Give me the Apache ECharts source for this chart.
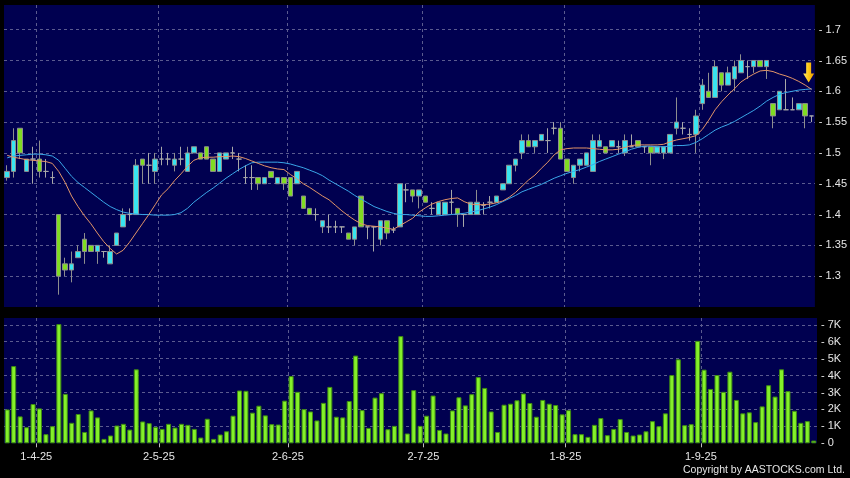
<!DOCTYPE html>
<html><head><meta charset="utf-8">
<script src="https://cdn.jsdelivr.net/npm/echarts@6/dist/echarts.min.js"></script>
<style>html,body{margin:0;padding:0;background:#000;}#c{width:850px;height:478px;}</style>
</head><body><div id="c"></div>
<script>
const dates = ['2025-03-26','2025-03-27','2025-03-28','2025-03-31','2025-04-01','2025-04-02','2025-04-03','2025-04-07','2025-04-08','2025-04-09',
'2025-04-10','2025-04-11','2025-04-14','2025-04-15','2025-04-16','2025-04-17','2025-04-22','2025-04-23','2025-04-24','2025-04-25',
'2025-04-28','2025-04-29','2025-04-30','2025-05-02','2025-05-06','2025-05-07','2025-05-08','2025-05-09','2025-05-12','2025-05-13',
'2025-05-14','2025-05-15','2025-05-16','2025-05-19','2025-05-20','2025-05-21','2025-05-22','2025-05-23','2025-05-26','2025-05-27',
'2025-05-28','2025-05-29','2025-05-30','2025-06-02','2025-06-03','2025-06-04','2025-06-05','2025-06-06','2025-06-09','2025-06-10',
'2025-06-11','2025-06-12','2025-06-13','2025-06-16','2025-06-17','2025-06-18','2025-06-19','2025-06-20','2025-06-23','2025-06-24',
'2025-06-25','2025-06-26','2025-06-27','2025-06-30','2025-07-02','2025-07-03','2025-07-04','2025-07-07','2025-07-08','2025-07-09',
'2025-07-10','2025-07-11','2025-07-14','2025-07-15','2025-07-16','2025-07-17','2025-07-18','2025-07-21','2025-07-22','2025-07-23',
'2025-07-24','2025-07-25','2025-07-28','2025-07-29','2025-07-30','2025-07-31','2025-08-01','2025-08-04','2025-08-05','2025-08-06',
'2025-08-07','2025-08-08','2025-08-11','2025-08-12','2025-08-13','2025-08-14','2025-08-15','2025-08-18','2025-08-19','2025-08-20',
'2025-08-21','2025-08-22','2025-08-25','2025-08-26','2025-08-27','2025-08-28','2025-08-29','2025-09-01','2025-09-02','2025-09-03',
'2025-09-04','2025-09-05','2025-09-08','2025-09-09','2025-09-10','2025-09-11','2025-09-12','2025-09-15','2025-09-16','2025-09-17',
'2025-09-18','2025-09-19','2025-09-22','2025-09-23','2025-09-24','2025-09-25'];

const opens = [1.46,1.47,1.54,1.47,1.49,1.49,1.47,1.46,1.40,1.32,
1.31,1.33,1.36,1.35,1.34,1.34,1.32,1.35,1.38,1.40,
1.40,1.49,1.48,1.47,1.49,1.49,1.48,1.49,1.47,1.50,
1.50,1.51,1.49,1.47,1.49,1.50,1.49,1.46,1.46,1.46,
1.45,1.47,1.45,1.46,1.46,1.45,1.43,1.41,1.40,1.38,
1.38,1.38,1.38,1.37,1.36,1.43,1.38,1.38,1.36,1.39,
1.375,1.38,1.44,1.44,1.43,1.43,1.41,1.40,1.40,1.42,
1.41,1.40,1.40,1.40,1.415,1.42,1.42,1.44,1.45,1.48,
1.50,1.52,1.51,1.52,1.52,1.54,1.54,1.49,1.46,1.48,
1.48,1.47,1.51,1.51,1.51,1.51,1.50,1.51,1.52,1.51,
1.51,1.50,1.50,1.50,1.54,1.54,1.53,1.53,1.58,1.60,
1.59,1.63,1.61,1.62,1.63,1.64,1.64,1.65,1.64,1.58,
1.57,1.57,1.57,1.57,1.58,1.56];
const closes = [1.47,1.52,1.50,1.49,1.49,1.47,1.47,1.46,1.30,1.31,
1.32,1.34,1.34,1.34,1.35,1.34,1.34,1.37,1.40,1.40,
1.48,1.48,1.48,1.49,1.49,1.49,1.49,1.49,1.50,1.51,
1.49,1.49,1.47,1.50,1.50,1.50,1.49,1.46,1.46,1.45,
1.46,1.46,1.46,1.45,1.43,1.47,1.41,1.40,1.40,1.39,
1.38,1.38,1.38,1.36,1.38,1.38,1.38,1.38,1.39,1.37,
1.375,1.45,1.44,1.43,1.44,1.42,1.41,1.42,1.42,1.42,
1.40,1.40,1.42,1.42,1.415,1.42,1.43,1.45,1.48,1.49,
1.52,1.51,1.52,1.53,1.52,1.54,1.49,1.47,1.48,1.49,
1.50,1.52,1.52,1.50,1.52,1.51,1.52,1.51,1.51,1.51,
1.50,1.51,1.51,1.53,1.55,1.54,1.53,1.56,1.61,1.59,
1.64,1.61,1.63,1.64,1.65,1.64,1.65,1.64,1.65,1.56,
1.60,1.57,1.57,1.58,1.56,1.56];
const lows = [1.455,1.46,1.49,1.47,1.45,1.46,1.46,1.45,1.27,1.30,
1.29,1.33,1.32,1.34,1.32,1.33,1.32,1.35,1.38,1.39,
1.40,1.45,1.45,1.45,1.48,1.48,1.47,1.48,1.47,1.50,
1.49,1.49,1.47,1.47,1.49,1.49,1.47,1.45,1.44,1.44,
1.45,1.46,1.45,1.44,1.43,1.45,1.41,1.40,1.39,1.37,
1.37,1.37,1.37,1.36,1.35,1.38,1.36,1.34,1.35,1.36,
1.37,1.38,1.42,1.42,1.41,1.42,1.40,1.40,1.40,1.40,
1.38,1.38,1.40,1.40,1.40,1.41,1.42,1.44,1.45,1.47,
1.49,1.51,1.50,1.52,1.50,1.53,1.49,1.47,1.45,1.47,
1.48,1.47,1.51,1.50,1.51,1.50,1.495,1.51,1.51,1.50,
1.48,1.50,1.49,1.50,1.53,1.53,1.52,1.50,1.57,1.59,
1.59,1.60,1.61,1.60,1.63,1.62,1.63,1.64,1.62,1.54,
1.57,1.57,1.57,1.57,1.54,1.55];
const highs = [1.48,1.54,1.54,1.49,1.51,1.52,1.49,1.47,1.40,1.33,
1.34,1.35,1.37,1.35,1.35,1.34,1.35,1.37,1.41,1.41,
1.49,1.49,1.50,1.50,1.51,1.50,1.50,1.51,1.51,1.51,
1.50,1.51,1.49,1.50,1.50,1.51,1.50,1.48,1.48,1.46,
1.46,1.47,1.46,1.46,1.46,1.47,1.43,1.41,1.41,1.39,
1.40,1.39,1.38,1.37,1.38,1.43,1.38,1.38,1.39,1.39,
1.38,1.45,1.45,1.44,1.44,1.43,1.42,1.42,1.42,1.44,
1.41,1.40,1.42,1.44,1.42,1.43,1.43,1.45,1.48,1.49,
1.53,1.53,1.52,1.53,1.54,1.55,1.55,1.49,1.48,1.49,
1.50,1.53,1.53,1.51,1.52,1.52,1.53,1.53,1.52,1.51,
1.51,1.51,1.51,1.53,1.59,1.55,1.54,1.57,1.62,1.63,
1.65,1.63,1.64,1.65,1.66,1.65,1.65,1.65,1.65,1.58,
1.60,1.62,1.59,1.58,1.58,1.56];

const ma10 = [1.496,1.493,1.491,1.489,1.488,1.487,1.486,1.483,1.470,1.452,
1.430,1.413,1.398,1.385,1.370,1.356,1.345,1.336,1.342,1.355,
1.370,1.385,1.400,1.416,1.432,1.442,1.455,1.466,1.478,1.488,
1.492,1.493,1.493,1.494,1.494,1.495,1.494,1.491,1.487,1.483,
1.479,1.476,1.474,1.473,1.465,1.458,1.450,1.444,1.437,1.430,
1.424,1.415,1.406,1.398,1.391,1.385,1.382,1.381,1.380,1.378,
1.376,1.382,1.388,1.394,1.404,1.411,1.417,1.421,1.424,1.426,
1.427,1.421,1.417,1.416,1.416,1.417,1.419,1.422,1.428,1.436,
1.446,1.456,1.464,1.475,1.485,1.497,1.505,1.507,1.508,1.508,
1.508,1.507,1.506,1.505,1.505,1.506,1.509,1.512,1.513,1.513,
1.513,1.513,1.514,1.518,1.521,1.523,1.525,1.528,1.538,1.553,
1.570,1.583,1.594,1.604,1.615,1.622,1.628,1.633,1.634,1.632,
1.628,1.625,1.621,1.616,1.610,1.603];
const ma20 = [1.492,1.495,1.496,1.497,1.498,1.498,1.497,1.495,1.488,1.475,
1.462,1.452,1.444,1.436,1.428,1.420,1.413,1.408,1.404,1.402,
1.401,1.400,1.400,1.399,1.399,1.399,1.400,1.403,1.410,1.420,
1.428,1.436,1.443,1.451,1.459,1.466,1.473,1.479,1.484,1.485,
1.485,1.485,1.485,1.484,1.482,1.479,1.476,1.472,1.468,1.463,
1.456,1.450,1.444,1.438,1.431,1.425,1.419,1.413,1.409,1.405,
1.402,1.400,1.400,1.399,1.398,1.397,1.397,1.398,1.399,1.400,
1.401,1.402,1.404,1.406,1.409,1.412,1.416,1.421,1.426,1.431,
1.437,1.441,1.445,1.449,1.454,1.459,1.463,1.467,1.470,1.473,
1.477,1.481,1.486,1.490,1.494,1.498,1.502,1.506,1.509,1.511,
1.511,1.510,1.510,1.511,1.512,1.512,1.513,1.517,1.523,1.530,
1.537,1.542,1.546,1.551,1.557,1.563,1.569,1.576,1.584,1.590,
1.595,1.598,1.600,1.602,1.603,1.604];

const volumes = [2000,4560,1590,950,2320,2060,540,1010,7040,2920,
1210,1730,670,1940,1530,260,460,1050,1150,810,
4370,1290,1190,970,850,1150,930,1150,1090,850,
340,1450,260,520,710,1630,3120,3100,1810,2220,
1650,1130,1110,2520,3970,3040,2020,1880,1350,2390,
3330,1570,1530,2500,5180,1960,910,2700,2960,830,
1030,6330,580,3140,1030,1630,2820,790,580,1940,
2720,2240,2900,3910,3270,1880,670,2280,2340,2540,
2940,2380,1570,2560,2340,2260,1710,1960,540,540,
380,1090,1490,480,850,1430,670,460,520,710,
1310,1010,1770,4030,4960,1070,1130,6050,4350,3210,
4030,3040,4230,2560,1770,1830,1250,2180,3430,2760,
4370,3080,1920,1210,1310,160];

const priceTicks = {min: 1.25, max: 1.74, step: 0.05};
const volTicks = {min: 0, max: 7400, step: 1000};

const NAVY = '#000050';
const GRIDC = '#5b5b8f';
const TXT = '#e6e6e6';
const FONT = '"Liberation Sans", Arial, sans-serif';
const labelCats = [''].concat(dates);
const isMonthStart = (i) => i >= 2 && labelCats[i].slice(5, 7) !== labelCats[i - 1].slice(5, 7);
const fmtDate = (v) => { const p = v.split('-'); return (+p[2]) + '-' + (+p[1]) + '-' + p[0].slice(2); };

const ohlc = dates.map((d, i) => [opens[i], closes[i], lows[i], highs[i]]);

const chart = echarts.init(document.getElementById('c'), null, {renderer: 'canvas'});
chart.setOption({
  backgroundColor: '#000000',
  animation: false,
  textStyle: {fontFamily: FONT},
  grid: [
    {left: 4, top: 5, width: 813, height: 302, show: true, backgroundColor: NAVY, borderWidth: 0},
    {left: 4, top: 318, width: 813, height: 125.3, show: true, backgroundColor: NAVY, borderWidth: 0}
  ],
  xAxis: [
    {type: 'category', gridIndex: 0, position: 'top', data: dates, boundaryGap: true, show: false},
    {type: 'category', gridIndex: 1, position: 'top', data: dates, boundaryGap: true, show: false},
    {type: 'category', gridIndex: 0, position: 'bottom', data: labelCats, boundaryGap: false,
      axisLine: {show: false}, axisTick: {show: false}, axisLabel: {show: false},
      splitLine: {show: true, interval: isMonthStart, lineStyle: {color: GRIDC, type: [3, 3], width: 1}}},
    {type: 'category', gridIndex: 1, position: 'bottom', data: labelCats, boundaryGap: false,
      axisLine: {show: false},
      axisTick: {show: true, interval: isMonthStart, length: 4, lineStyle: {color: '#bdbdbd'}},
      axisLabel: {show: true, interval: isMonthStart, formatter: fmtDate, color: TXT, fontSize: 11, margin: 8, fontFamily: FONT, hideOverlap: false},
      splitLine: {show: true, interval: isMonthStart, lineStyle: {color: GRIDC, type: [3, 3], width: 1}}}
  ],
  yAxis: [
    {type: 'value', gridIndex: 0, position: 'right', min: priceTicks.min, max: priceTicks.max, interval: priceTicks.step,
      axisLine: {show: false}, axisTick: {show: false},
      splitLine: {show: true, showMinLine: false, showMaxLine: false, lineStyle: {color: GRIDC, type: [3, 3], width: 1}},
      axisLabel: {showMinLabel: false, showMaxLabel: false, color: TXT, fontSize: 11, margin: 4, fontFamily: FONT,
        formatter: (v) => '- ' + (+v.toFixed(2))}},
    {type: 'value', gridIndex: 1, position: 'right', min: volTicks.min, max: volTicks.max, interval: volTicks.step,
      axisLine: {show: false}, axisTick: {show: false},
      splitLine: {show: true, showMinLine: false, showMaxLine: false, lineStyle: {color: GRIDC, type: [3, 3], width: 1}},
      axisLabel: {showMaxLabel: false, color: TXT, fontSize: 11, margin: 4, fontFamily: FONT,
        formatter: (v) => '- ' + (v === 0 ? '0' : (v / 1000) + 'K')}}
  ],
  series: [
    {type: 'candlestick', xAxisIndex: 0, yAxisIndex: 0, data: ohlc, barWidth: 5,
      itemStyle: {color: '#38e4f0', color0: '#80dc22', borderColor: '#8e8e8e', borderColor0: '#8e8e8e', borderColorDoji: '#a8a8a8', borderWidth: 1}},
    {type: 'line', xAxisIndex: 0, yAxisIndex: 0, data: ma10, symbol: 'none', smooth: false,
      lineStyle: {color: '#e39568', width: 1}, z: 5,
      markPoint: {
        symbol: 'path://M3,0 L8,0 L8,11 L11,11 L5.5,20 L0,11 L3,11 Z',
        symbolSize: [11, 20], symbolOffset: [-3, -17], label: {show: false},
        itemStyle: {color: new echarts.graphic.LinearGradient(0, 0, 1, 0, [{offset: 0, color: '#ffe870'}, {offset: 0.5, color: '#ffc814'}, {offset: 1, color: '#e89a00'}])},
        data: [{coord: [dates.length - 1, ma10[ma10.length - 1]]}]
      }},
    {type: 'line', xAxisIndex: 0, yAxisIndex: 0, data: ma20, symbol: 'none', smooth: false,
      lineStyle: {color: '#3aa6e8', width: 1}, z: 4},
    {type: 'bar', xAxisIndex: 1, yAxisIndex: 1, data: volumes, barWidth: 5,
      itemStyle: {color: '#84f02a', borderColor: '#3f8c12', borderWidth: 1}}
  ],
  graphic: [
    {type: 'text', right: 5, top: 465, style: {text: 'Copyright by AASTOCKS.com Ltd.', fill: TXT, font: '10.5px "Liberation Sans", Arial, sans-serif'}}
  ]
});
</script></body></html>
